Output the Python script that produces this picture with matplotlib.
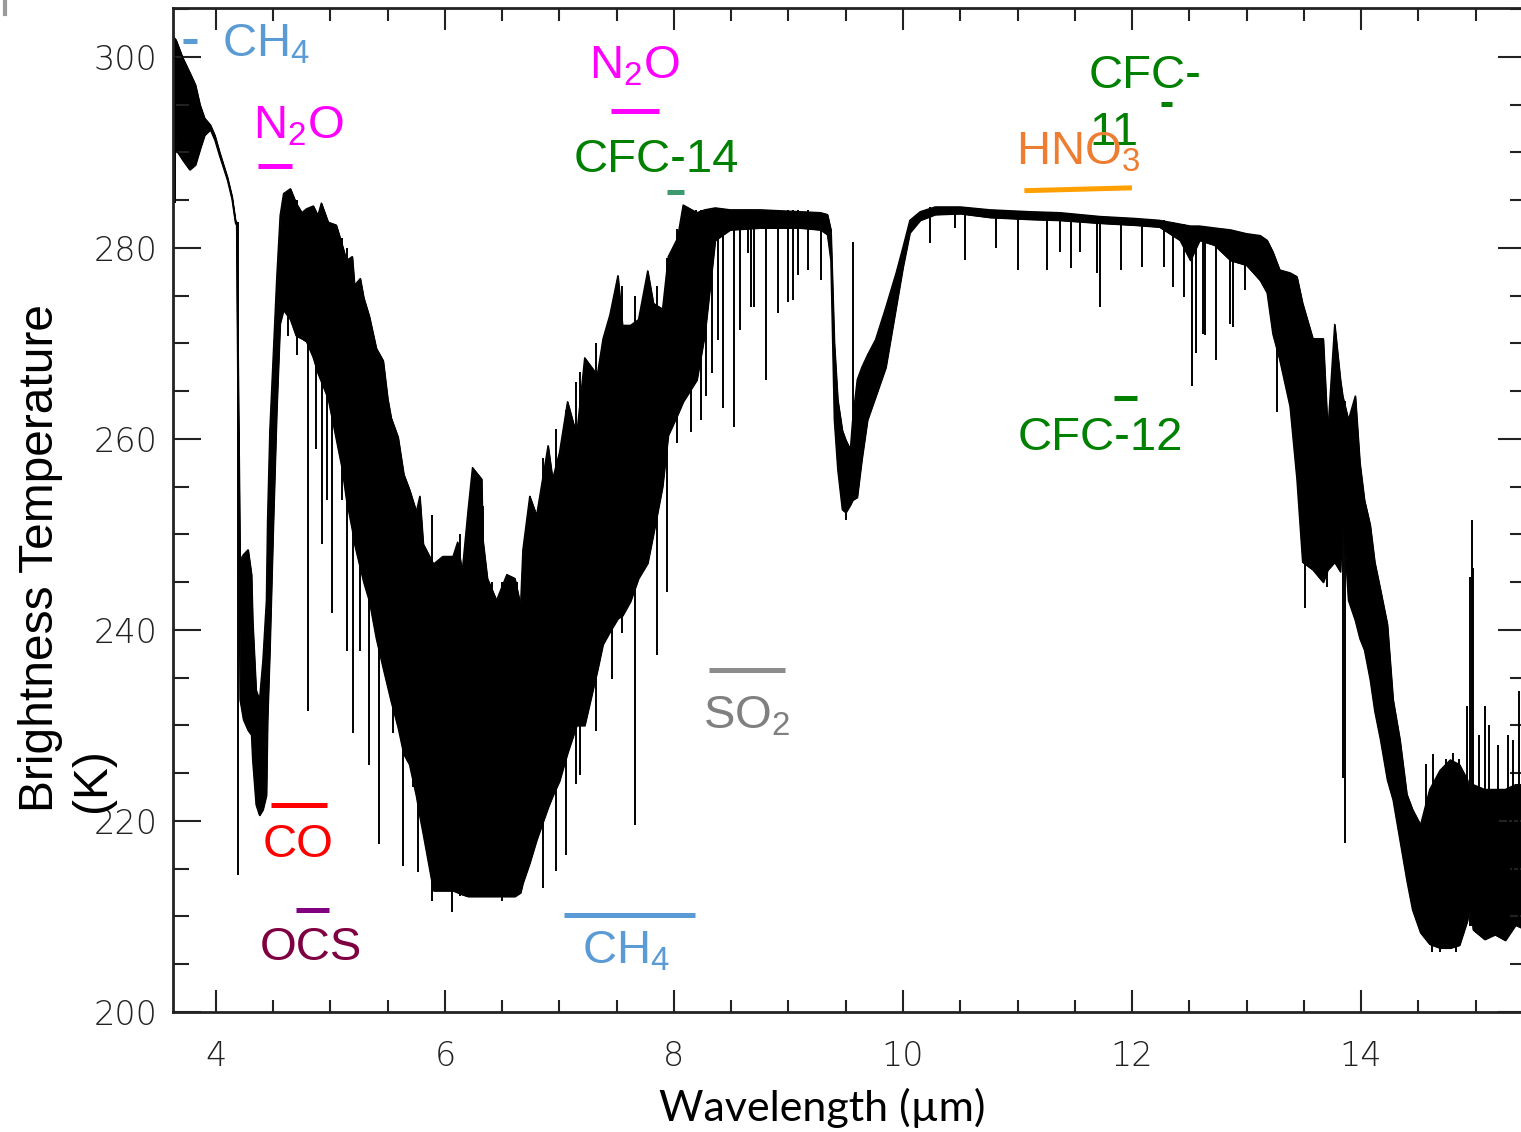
import numpy as np
import matplotlib
matplotlib.use('Agg')
import matplotlib.pyplot as plt
from matplotlib.ticker import MultipleLocator
from matplotlib.lines import Line2D

plt.rcParams['font.family'] = ['Liberation Sans', 'DejaVu Sans']
plt.rcParams['mathtext.default'] = 'regular'

# spectrum: top and bottom of the dense line band (um, K)
wl = [3.62, 3.65, 3.71, 3.77, 3.82, 3.86, 3.90, 3.95, 3.99, 4.03, 4.10, 4.14, 4.17, 4.18,
      4.21, 4.24, 4.28, 4.31, 4.32, 4.35, 4.38, 4.41, 4.44, 4.45, 4.47, 4.50, 4.53,
      4.56, 4.59, 4.65, 4.70, 4.75, 4.79, 4.85, 4.89, 4.92, 4.98, 5.05, 5.10, 5.14, 5.19,
      5.21, 5.26, 5.29, 5.34, 5.40, 5.46, 5.50, 5.53, 5.59, 5.64, 5.69, 5.75, 5.78, 5.81,
      5.90, 5.98, 6.07, 6.11, 6.15, 6.20, 6.24, 6.32, 6.33, 6.37, 6.45, 6.54, 6.61, 6.66,
      6.68, 6.74, 6.80, 6.90, 6.94, 7.00, 7.07, 7.15, 7.22, 7.33, 7.38, 7.44, 7.51, 7.55,
      7.62, 7.69, 7.77, 7.82, 7.90, 7.95, 8.03, 8.08,
      8.20, 8.27, 8.36, 8.49, 8.75, 9.10, 9.28, 9.34, 9.37, 9.40, 9.43, 9.47, 9.50, 9.54,
      9.56, 9.60, 9.64, 9.69, 9.76, 9.85, 9.94, 10.00, 10.06, 10.15, 10.28, 10.50, 10.76,
      11.11, 11.37, 11.72, 12.02, 12.24, 12.42, 12.51, 12.59, 12.72, 12.86, 13.00, 13.12,
      13.18, 13.23, 13.29, 13.38, 13.44, 13.49, 13.58, 13.67, 13.71, 13.77, 13.82, 13.84,
      13.89, 13.95, 13.99, 14.03, 14.08, 14.12, 14.17, 14.23, 14.28, 14.34, 14.40, 14.45,
      14.52, 14.60, 14.69, 14.78, 14.86, 14.93, 14.95, 14.98, 15.08, 15.17, 15.26, 15.35, 15.44]
tb_top = [302.2, 301.8, 299.9, 298.4, 297.1, 295.0, 293.6, 292.9, 291.8, 290.1, 287.4, 285.4, 282.9, 282.7,
          247.3, 247.9, 248.4, 245.8, 241.0, 233.7, 232.7, 236.9, 243.1, 251.5, 260.9, 268.8, 276.8,
          283.4, 285.7, 286.2, 284.7, 283.7, 284.1, 284.4, 283.4, 284.7, 282.7, 282.4, 280.4, 278.7, 279.1,
          276.1, 276.8, 274.8, 272.8, 269.5, 268.2, 264.2, 262.2, 260.2, 256.3, 254.7, 252.4, 254.0, 249.0,
          246.9, 247.7, 247.7, 249.2, 246.1, 252.4, 257.0, 255.8, 249.5, 245.4, 243.1, 245.8, 245.4, 242.6,
          248.4, 254.0, 252.0, 259.3, 255.8, 258.6, 263.9, 260.4, 268.5, 266.7, 270.5, 273.0, 277.1, 271.9,
          271.9, 272.5, 277.6, 274.2, 273.6, 279.1, 281.0, 284.5,
          283.7, 284.0, 284.2, 284.0, 284.0, 283.8, 283.7, 283.5, 281.9, 270.1, 264.1, 260.9, 259.9, 258.9,
          262.0, 266.2, 267.5, 268.8, 270.4, 273.8, 277.4, 280.1, 282.9, 283.8, 284.3, 284.3, 284.0,
          283.8, 283.7, 283.3, 283.1, 282.9, 282.5, 282.3, 282.3, 282.1, 281.9, 281.5, 281.3,
          280.8, 279.6, 277.7, 277.4, 277.0, 274.2, 270.5, 270.5, 260.7, 272.0, 266.2, 264.5,
          262.0, 264.5, 257.5, 253.6, 251.0, 247.1, 244.2, 240.6, 232.7, 228.5, 222.8, 221.2,
          219.6, 223.3, 225.3, 226.4, 225.9, 224.3, 222.2, 223.8, 223.3, 223.3, 223.3, 223.8, 223.8]
tb_bot = [299.7, 290.3, 289.2, 288.2, 288.7, 290.3, 291.8, 292.4, 291.3, 289.7, 287.1, 285.1, 282.6, 282.4,
          232.7, 230.6, 229.5, 229.0, 226.4, 221.7, 220.6, 221.2, 222.7, 230.6, 237.9, 251.0, 262.9,
          272.1, 273.5, 272.5, 270.8, 270.5, 270.2, 268.5, 266.9, 266.0, 264.2, 260.0, 257.0, 253.6, 250.5,
          249.0, 246.5, 245.0, 243.0, 239.1, 236.0, 234.0, 232.5, 229.8, 227.0, 225.9, 222.6, 220.5, 218.6,
          212.7, 212.7, 212.7, 212.5, 212.3, 212.1, 212.1, 212.1, 212.1, 212.1, 212.1, 212.1, 212.1, 212.5,
          213.5, 215.6, 218.0, 221.4, 222.6, 224.2, 227.1, 230.0, 230.0, 235.7, 238.5, 239.8, 241.2, 241.5,
          243.0, 245.4, 247.0, 250.0, 255.0, 260.4, 262.5, 263.9,
          266.2, 271.0, 280.8, 281.9, 282.1, 282.1, 281.9, 281.4, 278.7, 262.0, 256.8, 252.6, 252.3, 253.1,
          253.6, 253.9, 257.8, 262.0, 264.4, 267.5, 273.8, 278.0, 281.6, 282.9, 283.5, 283.6, 283.2,
          283.0, 282.9, 282.6, 282.4, 282.2, 280.8, 278.7, 280.8, 280.3, 278.7, 278.2, 276.6,
          275.3, 271.0, 268.3, 263.4, 255.8, 247.1, 246.3, 245.0, 246.3, 247.1, 246.1, 252.6,
          243.1, 241.0, 239.1, 237.9, 234.8, 231.5, 228.5, 224.3, 222.2, 218.0, 213.8, 210.7,
          208.3, 207.1, 206.7, 206.7, 207.0, 209.6, 211.7, 208.6, 207.6, 208.1, 207.5, 209.1, 208.6]

# single lines standing out of the band: wavelength, lower end, upper end (K)
line_wl = [3.64, 4.19, 4.63, 4.71, 4.80, 4.87, 4.93, 4.97, 5.01, 5.10, 5.14, 5.20, 5.26, 5.34,
           5.42, 5.55, 5.63, 5.72, 5.76, 5.89, 6.06, 6.13, 6.33, 6.41, 6.50, 6.63, 6.74, 6.86,
           6.97, 7.06, 7.14, 7.18, 7.32, 7.46, 7.55, 7.66, 7.85, 7.94, 8.03, 8.15, 8.19, 8.24,
           8.28, 8.33, 8.38, 8.43, 8.52, 8.58, 8.65, 8.67, 8.70, 8.80, 8.91, 9.00, 9.04, 9.08,
           9.17, 9.28, 9.50, 9.56, 10.24, 10.45, 10.54, 10.81, 11.00, 11.26, 11.37, 11.47, 11.55,
           11.69, 11.72, 11.90, 12.09, 12.28, 12.36, 12.45, 12.52, 12.56, 12.62, 12.64, 12.73,
           12.86, 12.88, 12.99, 13.27, 13.51, 13.70, 13.84, 13.86, 14.62, 14.69, 14.83,
           14.93, 14.95, 14.97, 14.98, 15.00, 15.08, 15.38,
           14.57, 14.63, 14.74, 14.80, 14.86, 15.03, 15.12, 15.20, 15.28, 15.33]
line_lo = [284.7, 214.3, 270.8, 268.8, 231.5, 259.0, 249.0, 253.6, 241.8, 253.6, 237.8, 229.2, 237.8, 225.9,
           217.6, 229.2, 215.3, 223.6, 214.7, 211.6, 210.5, 212.1, 212.1, 212.1, 211.6, 212.1, 216.2, 213.0,
           214.8, 216.4, 223.9, 224.8, 229.4, 234.9, 239.7, 219.6, 237.4, 244.0, 259.6, 260.7, 266.2, 262.0,
           264.5, 266.9, 270.4, 263.2, 261.3, 271.4, 279.5, 273.8, 273.8, 266.2, 273.2, 274.3, 274.6, 277.2,
           277.7, 276.6, 251.5, 253.6, 280.5, 282.1, 278.7, 280.0, 277.7, 277.7, 279.6, 277.9, 279.6,
           277.4, 273.8, 277.7, 278.0, 278.0, 275.9, 274.9, 265.5, 269.0, 271.0, 270.9, 268.3,
           272.0, 271.7, 275.6, 262.8, 242.3, 244.5, 224.5, 217.7, 206.3, 206.3, 206.3,
           209.6, 209.0, 209.0, 209.0, 208.3, 208.0, 209.0,
           215.0, 214.0, 214.0, 214.0, 214.0, 212.0, 212.0, 212.0, 212.0, 212.0]
line_hi = [300.0, 282.7, 285.0, 285.0, 284.0, 283.0, 283.0, 283.0, 282.0, 281.0, 280.0, 277.0, 275.0, 271.0,
           268.0, 261.0, 256.0, 253.0, 251.0, 252.0, 246.0, 250.0, 253.0, 245.0, 245.0, 245.0, 254.0, 258.0,
           261.0, 263.0, 266.0, 267.0, 270.0, 273.0, 276.0, 275.0, 276.0, 279.0, 282.0, 284.0, 284.0, 284.0,
           284.0, 284.0, 284.0, 284.0, 284.0, 284.0, 284.0, 284.0, 284.0, 284.0, 284.0, 284.0, 284.0, 284.0,
           284.0, 283.7, 258.0, 280.6, 284.3, 284.3, 284.3, 284.0, 283.8, 283.8, 283.7, 283.6, 283.5,
           283.3, 283.3, 283.2, 283.0, 282.9, 282.7, 282.5, 282.3, 282.3, 282.3, 282.2, 282.1,
           281.9, 281.9, 281.5, 278.0, 272.0, 262.0, 264.0, 264.0, 220.0, 222.0, 224.0,
           232.0, 245.5, 251.5, 246.5, 222.0, 232.0, 233.6,
           226.0, 227.0, 226.5, 227.1, 226.5, 229.0, 230.0, 228.0, 229.0, 228.5]

# gas labels and their band markers
gas_text = ['CH$_4$', 'N$_2$O', 'N$_2$O', 'CFC-14', 'CFC-', '11', 'HNO$_3$', 'CFC-12',
            'SO$_2$', 'CO', 'OCS', 'CH$_4$']
gas_text_color = ['#5B9BD5', '#FF00FF', '#FF00FF', '#008000', '#008000', '#008000', '#ED7D31',
                  '#008000', '#808080', '#FF0000', '#7F0040', '#5B9BD5']
gas_text_x = [4.05, 4.32, 7.26, 7.12, 11.62, 11.63, 10.99, 11.00, 8.25, 4.41, 4.38, 7.20]
gas_text_y = [300.0, 291.5, 297.7, 288.0, 296.8, 290.8, 288.7, 258.8, 229.7, 216.2, 205.4, 205.1]

bar_x0 = [3.71, 4.37, 7.45, 7.94, 12.25, 11.06, 11.84, 8.31, 4.48, 4.70, 7.04]
bar_x1 = [3.83, 4.66, 7.87, 8.09, 12.35, 12.00, 12.04, 8.97, 4.97, 4.99, 8.18]
bar_y0 = [301.7, 288.6, 294.3, 285.9, 295.1, 286.0, 264.3, 235.8, 221.7, 210.7, 210.2]
bar_y1 = [301.7, 288.6, 294.3, 285.9, 295.1, 286.3, 264.3, 235.8, 221.7, 210.7, 210.2]
bar_color = ['#5B9BD5', '#FF00FF', '#FF00FF', '#3C9A6E', '#008000', '#FFA000', '#008000',
             '#8C8C8C', '#FF0000', '#800080', '#5B9BD5']

W, H = 1521, 1132
fig = plt.figure(figsize=(W / 100, H / 100), dpi=100)
ax = fig.add_axes([173 / W, 1 - 1012 / H, (1526 - 173) / W, (1012 - 8) / H])

ax.fill_between(wl, tb_bot, tb_top, color='k', lw=0.8)
ax.plot(wl, tb_top, color='k', lw=1.0)
ax.plot(wl, tb_bot, color='k', lw=1.0)
ax.vlines(line_wl, line_lo, line_hi, color='k', lw=1.4)

for x0, x1, y0, y1, c in zip(bar_x0, bar_x1, bar_y0, bar_y1, bar_color):
    ax.plot([x0, x1], [y0, y1], color=c, lw=3.6, solid_capstyle='butt')
for s, c, x, y in zip(gas_text, gas_text_color, gas_text_x, gas_text_y):
    ax.text(x, y, s, color=c, fontsize=34, ha='left', va='baseline')

ax.set_xlim(3.6245, 15.441)
ax.set_ylim(200, 305.13)
ax.xaxis.set_major_locator(MultipleLocator(2))
ax.xaxis.set_minor_locator(MultipleLocator(0.5))
ax.yaxis.set_major_locator(MultipleLocator(20))
ax.yaxis.set_minor_locator(MultipleLocator(5))
ax.tick_params(which='both', direction='in', top=True, right=True, width=1.5, color='#222222')
ax.tick_params(axis='y', which='major', length=20, pad=11, labelsize=24)
ax.tick_params(axis='y', which='minor', length=11.5)
ax.tick_params(axis='x', which='major', length=16, pad=20, labelsize=24)
ax.tick_params(axis='x', which='minor', length=9)
for lbl in ax.get_xticklabels() + ax.get_yticklabels():
    lbl.set_fontfamily('DejaVu Sans')
    lbl.set_fontweight('light')
    lbl.set_color('#222222')
for sp in ax.spines.values():
    sp.set_linewidth(2)
    sp.set_color('#222222')

fig.text(67 / W, 1 - 812 / H, 'Brightness Temperature\n(K)', rotation=90,
         ha='center', va='bottom', multialignment='left', fontsize=34.5)
fig.text(822 / W, 1 - 1121 / H, 'Wavelength (\u00b5m)', ha='center', va='baseline',
         fontsize=31, family=['Lato', 'DejaVu Sans'])

# small grey mark in the top-left corner of the original
fig.add_artist(Line2D([5 / W, 5 / W], [1, 1 - 14 / H], color='#9a9a9a', lw=3))

fig.savefig('out.png', dpi=100)
